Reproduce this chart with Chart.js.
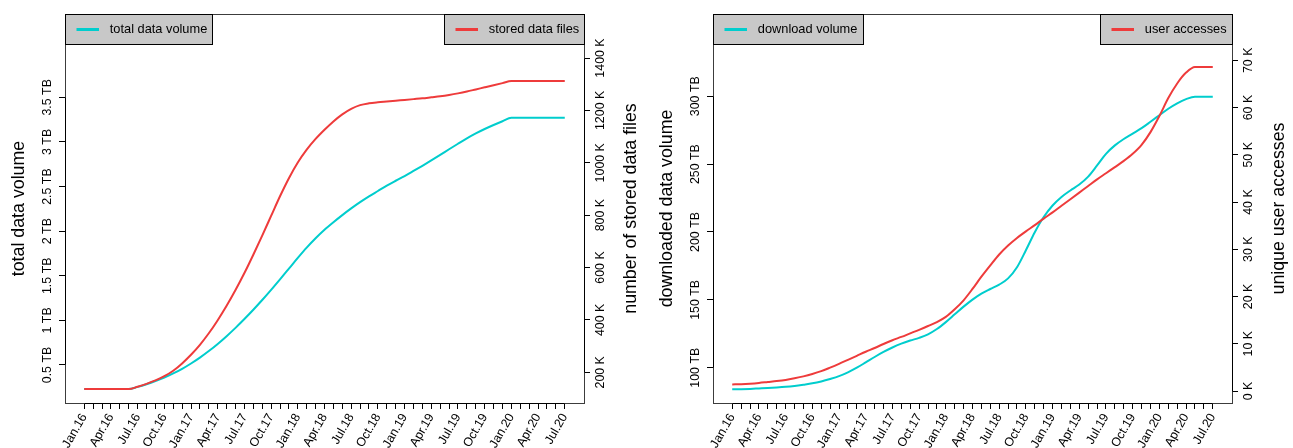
<!DOCTYPE html>
<html>
<head>
<meta charset="utf-8">
<script src="https://cdn.jsdelivr.net/npm/chart.js@4.4.0/dist/chart.umd.min.js"></script>
<style>
  html, body { margin: 0; padding: 0; background: #fff; }
  #wrap { position: relative; width: 1293px; height: 448px; overflow: hidden; }
  .panel { position: absolute; top: 0; height: 448px; }
</style>
</head>
<body>
<div id="wrap">
  <div class="panel" style="left:0;width:648px"><canvas id="storage" width="648" height="448"></canvas></div>
  <div class="panel" style="left:648px;width:645px"><canvas id="usage" width="645" height="448"></canvas></div>
</div>
<script>
// Monthly categories, Jan 2016 to Jul 2020 (every third one is labelled)
const months = [
  'Jan.16','Feb.16','Mar.16','Apr.16','May.16','Jun.16','Jul.16','Aug.16','Sep.16','Oct.16','Nov.16','Dec.16',
  'Jan.17','Feb.17','Mar.17','Apr.17','May.17','Jun.17','Jul.17','Aug.17','Sep.17','Oct.17','Nov.17','Dec.17',
  'Jan.18','Feb.18','Mar.18','Apr.18','May.18','Jun.18','Jul.18','Aug.18','Sep.18','Oct.18','Nov.18','Dec.18',
  'Jan.19','Feb.19','Mar.19','Apr.19','May.19','Jun.19','Jul.19','Aug.19','Sep.19','Oct.19','Nov.19','Dec.19',
  'Jan.20','Feb.20','Mar.20','Apr.20','May.20','Jun.20','Jul.20'
];

// Storage: total data volume (TB) and number of stored data files (thousands)
const totalVolumeTB = [
  0.23, 0.23, 0.23, 0.23, 0.23, 0.23,
  0.255, 0.285, 0.32, 0.36, 0.405, 0.457,
  0.517, 0.583, 0.656, 0.736, 0.823, 0.916,
  1.015, 1.119, 1.228, 1.342, 1.46, 1.58,
  1.70, 1.815, 1.92, 2.015, 2.10, 2.18,
  2.255, 2.325, 2.39, 2.45, 2.51, 2.565,
  2.618, 2.675, 2.733, 2.793, 2.855, 2.918,
  2.98, 3.04, 3.095, 3.145, 3.19, 3.232,
  3.27, 3.27, 3.27, 3.27, 3.27, 3.27, 3.27
];
const storedFilesK = [
  136, 136, 136, 136, 136, 136,
  145, 156, 169, 185, 206, 234,
  267, 305, 349, 399, 454, 514,
  579, 649, 722, 797, 872, 941,
  1001, 1050, 1091, 1126, 1158, 1185,
  1206, 1220, 1227, 1231, 1234, 1237,
  1240, 1243, 1246, 1250, 1254, 1259,
  1265, 1272, 1280, 1288, 1296, 1304,
  1312, 1312, 1312, 1312, 1312, 1312, 1312
];

// Usage: downloaded data volume (TB) and unique user accesses (thousands)
const downloadVolumeTB = [
  84.1, 84.2, 84.4, 84.7, 85.0, 85.4,
  85.9, 86.6, 87.5, 88.5, 89.9, 91.7,
  93.8, 96.6, 100.0, 103.9, 107.9, 111.6,
  114.9, 117.7, 120.0, 122.0, 124.6, 128.5,
  133.6, 139.3, 145.0, 150.2, 154.6, 158.0,
  161.2, 165.8, 174.0, 186.5, 199.8, 211.0,
  219.5, 225.8, 230.6, 235.0, 240.8, 249.0,
  257.6, 263.8, 268.5, 272.5, 276.5, 281.2,
  286.0, 290.8, 294.8, 297.9, 299.7, 299.7, 299.7
];
const userAccessesK = [
  1.40, 1.45, 1.55, 1.70, 1.90, 2.10,
  2.35, 2.70, 3.10, 3.60, 4.20, 4.95,
  5.75, 6.60, 7.45, 8.30, 9.10, 9.95,
  10.75, 11.45, 12.20, 12.95, 13.75, 14.60,
  15.70, 17.30, 19.20, 21.60, 24.20, 26.60,
  28.90, 30.80, 32.40, 33.80, 35.10, 36.50,
  37.80, 39.20, 40.60, 42.00, 43.40, 44.80,
  46.10, 47.40, 48.70, 50.20, 52.10, 54.80,
  58.20, 62.00, 65.10, 67.40, 68.60, 68.60, 68.60
];

// Axis tick values
const volumeTicksTB = [0.5, 1, 1.5, 2, 2.5, 3, 3.5];
const filesTicksK = [200, 400, 600, 800, 1000, 1200, 1400];
const downloadTicksTB = [100, 150, 200, 250, 300];
const accessTicksK = [0, 10, 20, 30, 40, 50, 60, 70];

const FONT = '"Liberation Sans", Arial, Helvetica, sans-serif';
const CYAN = '#00CDCD';
const RED = '#EE3B3B';
const TICK_PX = 12.4;
const TITLE_PX = 17.8;
const LEGEND_PX = 12.8;

Chart.defaults.font.family = FONT;
Chart.defaults.color = '#000';

const align = p => Math.round(p - 0.5) + 0.5;

// Frame, axis lines, rotated y tick labels, axis titles and the two corner legends
function makeDecor(p) {
  return {
    id: 'decor',
    afterDraw(chart) {
      const { ctx, chartArea: a, scales } = chart;
      const L = align(a.left), R = align(a.right), T = align(a.top), B = align(a.bottom);
      ctx.save();
      ctx.lineWidth = 1;
      ctx.strokeStyle = '#3c3c3c';
      ctx.strokeRect(L, T, R - L, B - T);

      const seg = (x1, y1, x2, y2) => { ctx.beginPath(); ctx.moveTo(x1, y1); ctx.lineTo(x2, y2); ctx.stroke(); };
      ctx.strokeStyle = '#000';
      const sx = scales.x, sy = scales.y, sy1 = scales.y1;
      seg(align(sx.getPixelForValue(0)), B, align(sx.getPixelForValue(months.length - 1)), B);
      seg(L, align(sy.getPixelForValue(p.leftTicks[0])), L, align(sy.getPixelForValue(p.leftTicks[p.leftTicks.length - 1])));
      seg(R, align(sy1.getPixelForValue(p.rightTicks[0])), R, align(sy1.getPixelForValue(p.rightTicks[p.rightTicks.length - 1])));

      const vtext = (txt, x, y, px) => {
        ctx.save();
        ctx.font = px + 'px ' + FONT;
        ctx.translate(x, y);
        ctx.rotate(-Math.PI / 2);
        ctx.textAlign = 'center';
        ctx.textBaseline = 'middle';
        ctx.fillStyle = '#000';
        ctx.fillText(txt, 0, 0);
        ctx.restore();
      };
      p.leftTicks.forEach(v => vtext(v + ' ' + p.leftUnit, a.left - 17.3, sy.getPixelForValue(v), TICK_PX));
      p.rightTicks.forEach(v => vtext(v + ' ' + p.rightUnit, a.right + 16.3, sy1.getPixelForValue(v), TICK_PX));

      const midY = (a.top + a.bottom) / 2;
      vtext(p.leftTitle, a.left - 46.2, midY, TITLE_PX);
      vtext(p.rightTitle, a.right + 47.5, midY, TITLE_PX);

      const legend = (ds, atRight) => {
        ctx.font = LEGEND_PX + 'px ' + FONT;
        const tw = ctx.measureText(ds.label).width;
        const w = Math.round(44 + tw + 6);
        const x0 = atRight ? R - w : L;
        const h = 30;
        ctx.fillStyle = '#C8C8C8';
        ctx.fillRect(x0, T, w, h);
        ctx.strokeStyle = '#000';
        ctx.lineWidth = 1;
        ctx.strokeRect(x0, T, w, h);
        const ly = T + 15;
        ctx.strokeStyle = ds.borderColor;
        ctx.lineWidth = 3;
        seg(x0 + 11, ly, x0 + 33.5, ly);
        ctx.fillStyle = '#000';
        ctx.textAlign = 'left';
        ctx.textBaseline = 'middle';
        ctx.fillText(ds.label, x0 + 44.3, ly);
      };
      legend(chart.data.datasets[0], false);
      legend(chart.data.datasets[1], true);
      ctx.restore();
    }
  };
}

function buildChart(id, p) {
  const tickGrid = { drawOnChartArea: false, drawTicks: true, tickLength: 6, color: '#000', lineWidth: 1 };
  return new Chart(document.getElementById(id), {
    type: 'line',
    data: {
      datasets: [
        { label: p.leftLabel, data: p.left.map((v, i) => ({ x: i, y: v })), borderColor: CYAN, yAxisID: 'y', order: 1 },
        { label: p.rightLabel, data: p.right.map((v, i) => ({ x: i, y: v })), borderColor: RED, yAxisID: 'y1', order: 0 }
      ]
    },
    options: {
      responsive: false,
      animation: false,
      devicePixelRatio: 1,
      layout: { padding: { top: 14, left: 0, right: 0, bottom: 0 } },
      plugins: { legend: { display: false }, tooltip: { enabled: false } },
      elements: {
        point: { radius: 0 },
        line: { borderWidth: 2, cubicInterpolationMode: 'monotone', fill: false }
      },
      scales: {
        x: {
          type: 'linear',
          min: -2.16, max: 56.16, bounds: 'data',
          afterBuildTicks: s => { s.ticks = months.map((m, i) => ({ value: i })); },
          ticks: {
            autoSkip: false, minRotation: 60, maxRotation: 60, padding: 2,
            font: { size: TICK_PX }, color: '#000',
            callback: v => (v % 3 === 0 ? months[v] : '')
          },
          grid: tickGrid,
          border: { display: false },
          afterFit: s => { s.height = 45; }
        },
        y: {
          position: 'left',
          min: p.yMin, max: p.yMax, bounds: 'data',
          afterBuildTicks: s => { s.ticks = p.leftTicks.map(v => ({ value: v })); },
          ticks: { display: false },
          grid: tickGrid,
          border: { display: false },
          afterFit: s => { s.width = 65; }
        },
        y1: {
          position: 'right',
          min: p.y1Min, max: p.y1Max, bounds: 'data',
          afterBuildTicks: s => { s.ticks = p.rightTicks.map(v => ({ value: v })); },
          ticks: { display: false },
          grid: tickGrid,
          border: { display: false },
          afterFit: s => { s.width = p.rightWidth; }
        }
      }
    },
    plugins: [makeDecor(p)]
  });
}

buildChart('storage', {
  left: totalVolumeTB, right: storedFilesK,
  leftLabel: 'total data volume', rightLabel: 'stored data files',
  leftTicks: volumeTicksTB, rightTicks: filesTicksK,
  leftUnit: 'TB', rightUnit: 'K',
  leftTitle: 'total data volume', rightTitle: 'number of stored data files',
  yMin: 0.074, yMax: 4.434, y1Min: 82.8, y1Max: 1568,
  rightWidth: 64
});

buildChart('usage', {
  left: downloadVolumeTB, right: userAccessesK,
  leftLabel: 'download volume', rightLabel: 'user accesses',
  leftTicks: downloadTicksTB, rightTicks: accessTicksK,
  leftUnit: 'TB', rightUnit: 'K',
  leftTitle: 'downloaded data volume', rightTitle: 'unique user accesses',
  yMin: 74.0, yMax: 360.6, y1Min: -2.54, y1Max: 79.8,
  rightWidth: 61
});
</script>
</body>
</html>
